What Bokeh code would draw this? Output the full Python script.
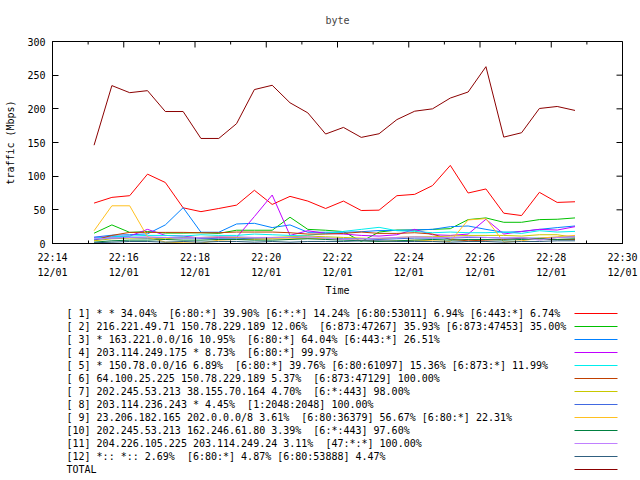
from datetime import datetime
import math
from bokeh.plotting import figure
from bokeh.models import (Range1d, FixedTicker, DatetimeTickFormatter, ColumnDataSource)
from bokeh.layouts import column
from bokeh.embed import file_html
from bokeh.resources import INLINE
from bokeh.core.properties import value

# ---------------- data ----------------
DAY = "2010-12-01"
times = ["22:15:10", "22:15:40", "22:16:10", "22:16:40", "22:17:10", "22:17:40",
         "22:18:10", "22:18:40", "22:19:10", "22:19:40", "22:20:10", "22:20:40",
         "22:21:10", "22:21:40", "22:22:10", "22:22:40", "22:23:10", "22:23:40",
         "22:24:10", "22:24:40", "22:25:10", "22:25:40", "22:26:10", "22:26:40",
         "22:27:10", "22:27:40", "22:28:10", "22:28:40"]

s1 = [60, 68.5, 71, 103, 90.6, 53, 47.3, 52, 57, 79, 58, 70, 63, 52, 63, 49, 49.5,
      71, 73, 86, 116, 75, 81, 45, 41.5, 76, 61, 62]
s2 = [15.3, 27.6, 16.5, 17.7, 15.5, 15.5, 16, 15, 19.7, 19.7, 19.7, 39, 21, 19.7,
      17.7, 3, 17, 20, 20, 21, 22, 35.5, 38, 31.5, 31.5, 35.5, 36, 38]
s3 = [9.4, 12.3, 13, 14.3, 27.6, 53.2, 16.7, 16.7, 29, 30, 23.6, 27.6, 16.7, 16.7,
      16.7, 17.5, 19.2, 19.5, 20.2, 21, 25, 26, 21, 16.7, 17.7, 21, 23.6, 26]
s4 = [9, 10, 11, 21, 12, 11, 8, 9, 9, 40, 72, 12, 19, 15, 14, 12, 11, 13, 21, 13,
      12, 14, 36, 14, 18, 21, 20, 25]
s5 = [8, 10, 11, 12, 12, 11, 13, 12, 12, 14, 13, 12, 12, 15, 18, 21, 24, 19, 18,
      16, 17, 16, 16, 17, 15, 19, 17, 18]
s6 = [5, 12, 16.5, 16.5, 16.5, 16.5, 16, 16, 17, 17, 17, 16, 14, 14, 15, 17, 15,
      15, 16, 14, 6, 4, 5, 6, 8, 7, 6, 6]
s7 = [4, 7, 8, 8, 7, 9, 9, 10, 9, 8, 9, 10, 11, 10, 9, 8, 7, 9, 10, 10, 11, 12, 12,
      12, 11, 13, 13, 9]
s8 = [6, 8, 9, 8, 9, 8, 8, 7, 7, 8, 8, 9, 8, 8, 7, 7, 6, 7, 8, 8, 8, 9, 9, 8, 8, 8,
      9, 10]
s9 = [19, 56, 56, 10, 2, 1, 0.5, 5, 6, 6, 7, 7, 8, 7, 6, 5, 3, 4, 5, 4, 3, 35, 37, 2,
      4, 8, 10, 12]
s10 = [2, 4, 5, 5, 6, 5, 5, 6, 6, 5, 5, 6, 7, 6, 5, 4, 3, 4, 5, 6, 5, 6, 6, 5, 6, 7,
       6, 7]
s11 = [7, 8, 9, 10, 9, 8, 9, 10, 10, 9, 9, 9, 10, 8, 6, 7, 8, 9, 10, 9, 9, 10, 9, 8,
       9, 5, 9, 10]
s12 = [1, 2, 3, 3, 2, 3, 2, 3, 3, 2, 3, 2, 3, 3, 3, 4, 4, 3, 3, 3, 2, 3, 3, 2, 3, 3,
       4, 4]
total = [146, 234.5, 224, 227, 196, 196, 156, 156, 178, 228.6, 235, 209, 194, 162.6,
         172.4, 157.6, 163, 184, 196.5, 200, 216, 225, 262.6, 158, 164.5, 200.5,
         203.5, 197.6]

labels = [
    "[ 1] * * 34.04%  [6:80:*] 39.90% [6:*:*] 14.24% [6:80:53011] 6.94% [6:443:*] 6.74%",
    "[ 2] 216.221.49.71 150.78.229.189 12.06%  [6:873:47267] 35.93% [6:873:47453] 35.00%",
    "[ 3] * 163.221.0.0/16 10.95%  [6:80:*] 64.04% [6:443:*] 26.51%",
    "[ 4] 203.114.249.175 * 8.73%  [6:80:*] 99.97%",
    "[ 5] * 150.78.0.0/16 6.89%  [6:80:*] 39.76% [6:80:61097] 15.36% [6:873:*] 11.99%",
    "[ 6] 64.100.25.225 150.78.229.189 5.37%  [6:873:47129] 100.00%",
    "[ 7] 202.245.53.213 38.155.70.164 4.70%  [6:*:443] 98.00%",
    "[ 8] 203.114.236.243 * 4.45%  [1:2048:2048] 100.00%",
    "[ 9] 23.206.182.165 202.0.0.0/8 3.61%  [6:80:36379] 56.67% [6:80:*] 22.31%",
    "[10] 202.245.53.213 162.246.61.80 3.39%  [6:*:443] 97.60%",
    "[11] 204.226.105.225 203.114.249.24 3.11%  [47:*:*] 100.00%",
    "[12] *:: *:: 2.69%  [6:80:*] 4.87% [6:80:53888] 4.47%",
    "TOTAL",
]
series = [s1, s2, s3, s4, s5, s6, s7, s8, s9, s10, s11, s12, total]
colors = ["#ff0000", "#00c000", "#0080ff", "#c000ff", "#00eeee", "#c04000",
          "#c8c800", "#4169e1", "#ffc020", "#008040", "#c080ff", "#306080", "#8b0000"]

x_start, x_end = "22:14", "22:30"
tick_times = ["22:14", "22:16", "22:18", "22:20", "22:22", "22:24", "22:26", "22:28", "22:30"]
y_ticks = [0, 50, 100, 150, 200, 250, 300]
y_min, y_max = 0, 300

# ---------------- helpers ----------------
EPOCH = datetime(1970, 1, 1)


def ts(t):
    fmt = "%Y-%m-%d %H:%M:%S" if t.count(":") == 2 else "%Y-%m-%d %H:%M"
    return datetime.strptime(DAY + " " + t, fmt)


def ms(dt):
    return (dt - EPOCH).total_seconds() * 1000.0


xs = [ts(t) for t in times]
major = [ms(ts(t)) for t in tick_times]
minor = [major[i] + k * 60000.0 for i in range(len(major)) for k in (0, 1)][:-1]
minor_only = [m for m in minor if m not in major]

FONT = value("DejaVu Sans Mono")
FS = "10px"

W = 640
H1 = 298
H2 = 182
FRAME_L, FRAME_R = 52, 622

p = figure(width=W, height=H1, output_backend="svg", toolbar_location=None,
           x_axis_type="datetime",
           x_range=Range1d(ms(ts(x_start)), ms(ts(x_end))),
           y_range=Range1d(y_min, y_max),
           min_border_left=FRAME_L, min_border_right=W - FRAME_R, min_border_top=40,
           min_border_bottom=55)
p.title.text = "byte"
p.title.align = "center"
p.title.vertical_align = "top"
p.title.text_font = "DejaVu Sans Mono"
p.title.text_font_size = FS
p.title.text_font_style = "normal"
p.title.standoff = 28
p.grid.visible = False
p.outline_line_color = "black"
p.outline_line_alpha = 1.0
p.background_fill_color = "white"
p.border_fill_color = "white"

xticker = FixedTicker(ticks=major, minor_ticks=minor)
yticker = FixedTicker(ticks=y_ticks)
fmt = "%H:%M\n%m/%d"
xformatter = DatetimeTickFormatter(microseconds=fmt, milliseconds=fmt, seconds=fmt,
                                   minsec=fmt, minutes=fmt, hourmin=fmt, hours=fmt,
                                   days=fmt, months=fmt, years=fmt)


def style_axis(ax):
    ax.axis_line_color = "black"
    ax.major_tick_line_color = "black"
    ax.minor_tick_line_color = "black"
    ax.major_tick_in = 6
    ax.major_tick_out = 0
    ax.minor_tick_in = 3
    ax.minor_tick_out = 0
    ax.major_label_text_font = "DejaVu Sans Mono"
    ax.major_label_text_font_size = FS
    ax.major_label_text_color = "black"
    ax.axis_label_text_font = "DejaVu Sans Mono"
    ax.axis_label_text_font_size = FS
    ax.axis_label_text_font_style = "normal"
    ax.axis_label_text_color = "black"


xa = p.xaxis[0]
xa.ticker = xticker
xa.formatter = xformatter
style_axis(xa)
xa.axis_label = "Time"
xa.major_label_standoff = 8
xa.axis_label_standoff = 4
xa.major_label_text_line_height = 1.4

ya = p.yaxis[0]
ya.ticker = yticker
style_axis(ya)
ya.minor_tick_in = 0
ya.axis_label = "traffic (Mbps)"
ya.major_label_standoff = 7
ya.axis_label_standoff = 8

# mirrored (inward) ticks on the top and right edges of the frame
p.scatter(major, [y_max] * len(major), marker="dash", angle=math.pi / 2, size=12,
          line_color="black", line_width=1)
p.scatter(minor_only, [y_max] * len(minor_only), marker="dash", angle=math.pi / 2,
          size=6, line_color="black", line_width=1)
p.scatter([major[-1]] * len(y_ticks), y_ticks, marker="dash", size=12,
          line_color="black", line_width=1)

for s, c in zip(series, colors):
    p.line(xs, s, line_color=c, line_width=1)

# ---------------- key (below the plot) ----------------
# the column layout aligns this frame with the plot frame, so its x range spans
# the same pixel columns as that frame
k = figure(width=W, height=H2, output_backend="svg", toolbar_location=None,
           x_range=Range1d(FRAME_L, FRAME_R), y_range=Range1d(H2, 0),
           x_axis_location=None, y_axis_location=None,
           min_border_left=FRAME_L, min_border_right=W - FRAME_R,
           min_border_top=0, min_border_bottom=0)
k.grid.visible = False
k.outline_line_color = None
k.background_fill_color = "white"
k.border_fill_color = "white"

shown = [t.replace("  ", " \u00a0") for t in labels]
row = list(range(len(labels)))
ky = [15 + 13 * i for i in row]
src = ColumnDataSource(dict(x=[66] * len(labels), y=ky, t=shown,
                            x0=[574] * len(labels), x1=[617] * len(labels), c=colors))
k.text(x="x", y="y", text="t", source=src, text_font=FONT, text_font_size=FS,
       text_baseline="middle", text_align="left", text_color="black")
k.segment(x0="x0", y0="y", x1="x1", y1="y", line_color="c", line_width=1, source=src)

layout = column(p, k, spacing=0)
open("out.html", "w").write(file_html(layout, INLINE))
